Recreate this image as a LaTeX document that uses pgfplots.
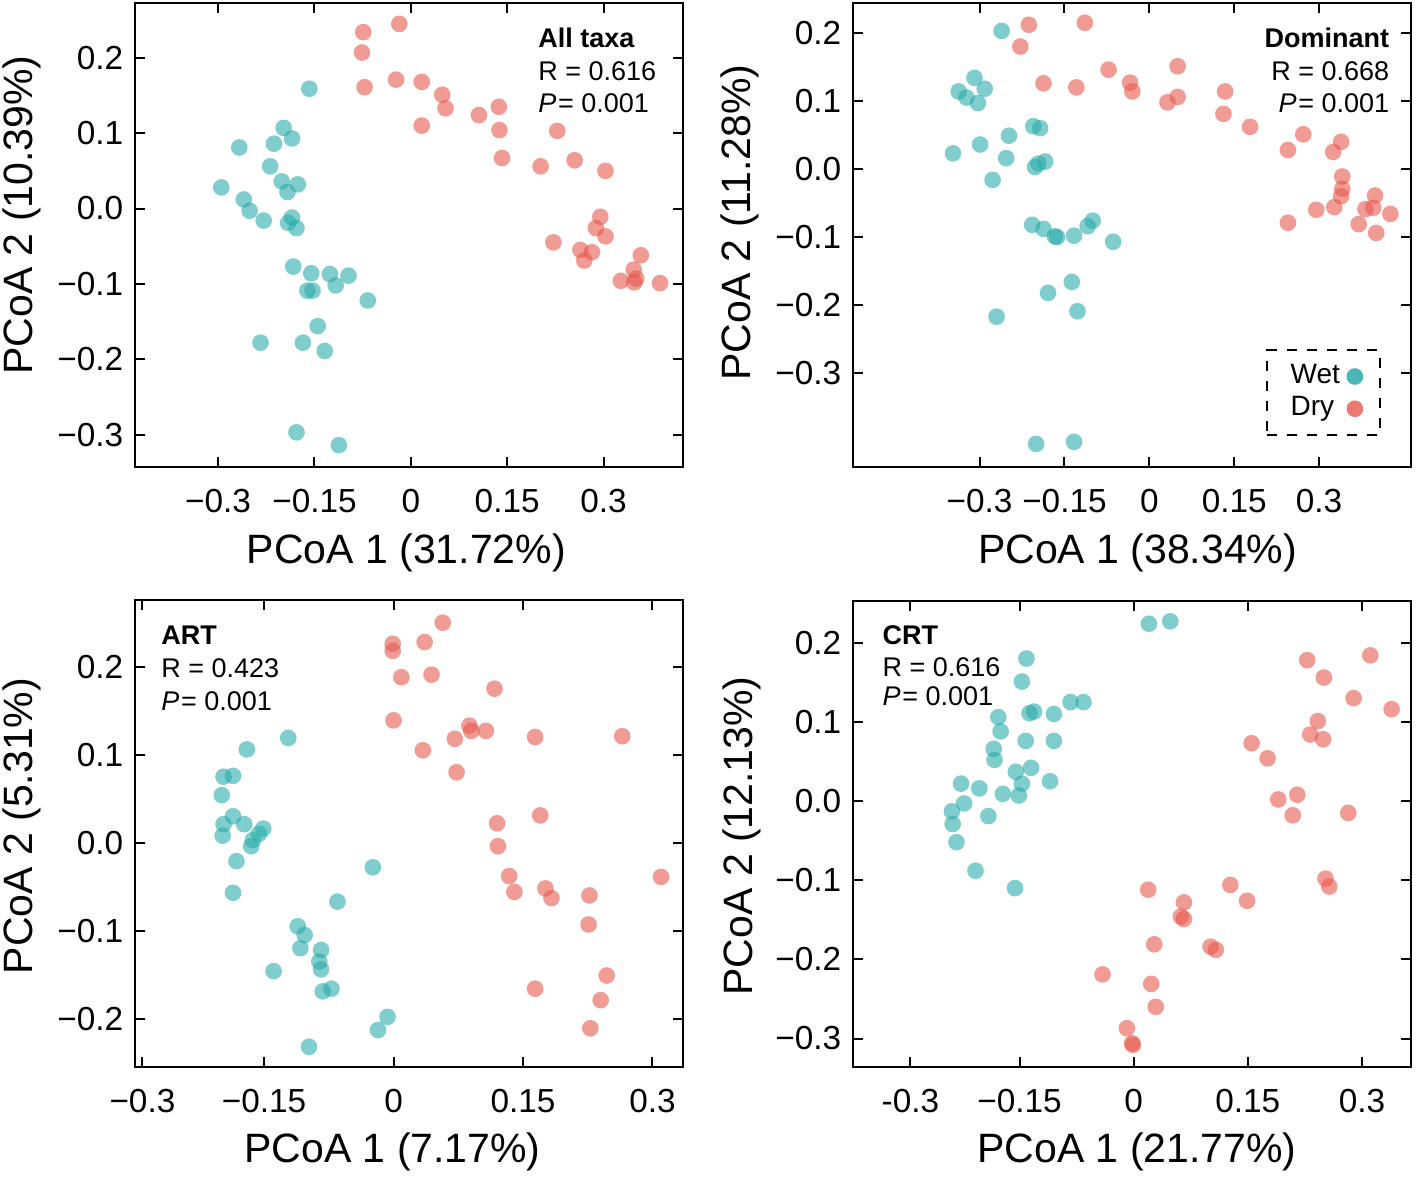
\documentclass[border=0pt]{standalone}
\usepackage{fontspec}
\setmainfont{Liberation Sans}
\usepackage{pgfplots}
\pgfplotsset{compat=1.18}

\definecolor{wetc}{HTML}{2AABAA}
\definecolor{dryc}{HTML}{E6584D}

\pgfplotsset{
  pcoa/.style={
    scale only axis,
    anchor=south west,
    axis line style={line width=0.6pt},
    tick style={line width=0.6pt, black},
    tick align=inside,
    major tick length=3pt,
    xticklabel style={font=\fontsize{10}{12}\selectfont, yshift=-3pt},
    yticklabel style={font=\fontsize{10}{12}\selectfont},
    label style={font=\fontsize{12.3}{14}\selectfont},
    xlabel style={anchor=center},
    ylabel style={anchor=center},
  },
  wet/.style={only marks, mark=*, mark size=2.5pt, color=wetc,
    mark options={fill=wetc, draw opacity=0, fill opacity=0.6}},
  dry/.style={only marks, mark=*, mark size=2.5pt, color=dryc,
    mark options={fill=dryc, draw opacity=0, fill opacity=0.6}},
}
\tikzset{ann/.style={inner sep=0pt, font=\fontsize{8.1}{10}\selectfont}}
\newcommand{\pval}{{\itshape P}\kern0.5pt= 0.001}

\begin{document}
\begin{tikzpicture}
\useasboundingbox (0,0) rectangle (425.4pt,-353.4pt);

% All taxa
\begin{axis}[pcoa,
  at={(40.5pt,-140.1pt)}, width=164.4pt, height=139.2pt,
  xmin=-0.4294, xmax=0.4237, ymin=-0.343, ymax=0.2727,
  xtick={-0.3,-0.15,0,0.15,0.3},
  xticklabels={−0.3,−0.15,0,0.15,0.3},
  ytick={-0.3,-0.2,-0.1,0,0.1,0.2},
  yticklabels={−0.3,−0.2,−0.1,0.0,0.1,0.2},
  xlabel={PCoA 1 (31.72\%)}, ylabel={PCoA 2 (10.39\%)},
  xlabel style={at={(axis description cs:0.495,-0.185)}},
  ylabel style={at={(axis description cs:-0.206,0.543)}},
]
\addplot[wet] coordinates {
(-0.158,0.159)(-0.198,0.107)(-0.185,0.093)(-0.267,0.081)(-0.213,0.086)
(-0.219,0.056)(-0.201,0.036)(-0.176,0.032)(-0.192,0.022)(-0.295,0.028)
(-0.260,0.012)(-0.251,-0.003)(-0.229,-0.016)(-0.185,-0.012)(-0.191,-0.019)
(-0.178,-0.026)(-0.183,-0.077)(-0.155,-0.086)(-0.126,-0.087)(-0.097,-0.089)
(-0.117,-0.102)(-0.161,-0.109)(-0.153,-0.109)(-0.067,-0.122)(-0.145,-0.156)
(-0.234,-0.178)(-0.168,-0.178)(-0.134,-0.189)(-0.178,-0.297)(-0.112,-0.314)
};
\addplot[dry] coordinates {
(-0.074,0.234)(-0.018,0.245)(-0.076,0.207)(-0.072,0.161)(-0.023,0.171)
(0.017,0.168)(0.049,0.151)(0.054,0.133)(0.017,0.110)(0.106,0.124)
(0.137,0.135)(0.138,0.104)(0.142,0.067)(0.228,0.103)(0.202,0.056)
(0.255,0.064)(0.303,0.050)(0.295,-0.011)(0.288,-0.026)(0.303,-0.037)
(0.222,-0.045)(0.264,-0.055)(0.282,-0.058)(0.270,-0.069)(0.358,-0.062)
(0.347,-0.081)(0.351,-0.093)(0.327,-0.096)(0.348,-0.098)(0.388,-0.099)
};
\node[ann, anchor=base west, font=\fontsize{8.1}{10}\selectfont\bfseries] at (axis description cs:0.735,0.905) {All taxa};
\node[ann, anchor=base west] at (axis description cs:0.735,0.834) {R = 0.616};
\node[ann, anchor=base west] at (axis description cs:0.735,0.765) {\pval};
\end{axis}

% Dominant
\begin{axis}[pcoa,
  at={(255.9pt,-140.1pt)}, width=167.4pt, height=139.2pt,
  xmin=-0.5237, xmax=0.4625, ymin=-0.438, ymax=0.244,
  xtick={-0.3,-0.15,0,0.15,0.3},
  xticklabels={−0.3,−0.15,0,0.15,0.3},
  ytick={-0.3,-0.2,-0.1,0,0.1,0.2},
  yticklabels={−0.3,−0.2,−0.1,0.0,0.1,0.2},
  xlabel={PCoA 1 (38.34\%)}, ylabel={PCoA 2 (11.28\%)},
  xlabel style={at={(axis description cs:0.51,-0.185)}},
  ylabel style={at={(axis description cs:-0.2025,0.527)}},
  legend plot pos=right,
  legend cell align=left,
  legend style={at={(axis description cs:0.946,0.067)}, anchor=south east,
    draw=black, dashed, line width=0.6pt,
    font=\fontsize{8.4}{10}\selectfont, row sep=0pt,
    nodes={inner ysep=1.2pt},
    inner xsep=5pt, inner ysep=3pt},
]
\addlegendimage{only marks, mark=*, mark size=2.5pt, color=wetc, mark options={solid, fill=wetc, draw opacity=0, fill opacity=0.85}}
\addlegendentry{Wet}
\addlegendimage{only marks, mark=*, mark size=2.5pt, color=dryc, mark options={solid, fill=dryc, draw opacity=0, fill opacity=0.8}}
\addlegendentry{Dry}
\addplot[wet, forget plot] coordinates {
(-0.261,0.203)(-0.309,0.134)(-0.337,0.114)(-0.291,0.118)(-0.323,0.105)
(-0.303,0.097)(-0.205,0.063)(-0.193,0.060)(-0.248,0.049)(-0.299,0.036)
(-0.347,0.023)(-0.253,0.016)(-0.196,0.008)(-0.202,0.003)(-0.184,0.011)
(-0.277,-0.016)(-0.207,-0.082)(-0.187,-0.088)(-0.167,-0.099)(-0.163,-0.100)
(-0.133,-0.098)(-0.109,-0.084)(-0.100,-0.076)(-0.064,-0.107)(-0.137,-0.166)
(-0.179,-0.182)(-0.127,-0.209)(-0.270,-0.217)(-0.200,-0.404)(-0.133,-0.401)
};
\addplot[dry, forget plot] coordinates {
(-0.213,0.212)(-0.114,0.215)(-0.228,0.180)(-0.072,0.146)(0.050,0.151)
(-0.187,0.126)(-0.129,0.120)(-0.034,0.127)(-0.030,0.114)(0.050,0.106)
(0.032,0.098)(0.134,0.114)(0.131,0.081)(0.178,0.062)(0.272,0.051)
(0.245,0.028)(0.339,0.040)(0.325,0.025)(0.341,-0.011)(0.341,-0.029)
(0.339,-0.040)(0.295,-0.060)(0.327,-0.056)(0.245,-0.079)(0.399,-0.039)
(0.382,-0.059)(0.396,-0.057)(0.426,-0.066)(0.370,-0.081)(0.401,-0.094)
};
\node[ann, anchor=base east, font=\fontsize{8.1}{10}\selectfont\bfseries] at (axis description cs:0.962,0.905) {Dominant};
\node[ann, anchor=base east] at (axis description cs:0.962,0.834) {R = 0.668};
\node[ann, anchor=base east] at (axis description cs:0.962,0.765) {\pval};
\end{axis}

% ART
\begin{axis}[pcoa,
  at={(40.5pt,-320.1pt)}, width=164.4pt, height=140.1pt,
  xmin=-0.2996, xmax=0.3354, ymin=-0.255, ymax=0.2758,
  xtick={-0.291,-0.15,0,0.15,0.3},
  xticklabels={−0.3,−0.15,0,0.15,0.3},
  ytick={-0.2,-0.1,0,0.1,0.2},
  yticklabels={−0.2,−0.1,0.0,0.1,0.2},
  xlabel={PCoA 1 (7.17\%)}, ylabel={PCoA 2 (5.31\%)},
  xlabel style={at={(axis description cs:0.47,-0.182)}},
  ylabel style={at={(axis description cs:-0.206,0.516)}},
]
\addplot[wet] coordinates {
(-0.122,0.119)(-0.170,0.106)(-0.197,0.075)(-0.186,0.076)(-0.199,0.054)
(-0.186,0.030)(-0.197,0.021)(-0.173,0.021)(-0.198,0.008)(-0.151,0.016)
(-0.156,0.010)(-0.163,0.003)(-0.165,-0.004)(-0.182,-0.021)(-0.186,-0.057)
(-0.024,-0.028)(-0.065,-0.067)(-0.111,-0.095)(-0.103,-0.105)(-0.108,-0.120)
(-0.084,-0.122)(-0.086,-0.135)(-0.084,-0.144)(-0.139,-0.146)(-0.072,-0.166)
(-0.082,-0.169)(-0.007,-0.198)(-0.018,-0.213)(-0.098,-0.232)
};
\addplot[dry] coordinates {
(0.057,0.250)(-0.001,0.226)(-0.001,0.218)(0.036,0.228)(0.009,0.188)
(0.044,0.191)(0.117,0.175)(0.000,0.139)(0.088,0.133)(0.090,0.127)
(0.071,0.118)(0.107,0.127)(0.164,0.120)(0.265,0.121)(0.034,0.105)
(0.073,0.080)(0.170,0.031)(0.120,0.022)(0.121,-0.004)(0.134,-0.038)
(0.140,-0.056)(0.176,-0.052)(0.183,-0.063)(0.227,-0.060)(0.310,-0.039)
(0.226,-0.093)(0.247,-0.151)(0.164,-0.166)(0.240,-0.179)(0.228,-0.211)
};
\node[ann, anchor=base west, font=\fontsize{8.1}{10}\selectfont\bfseries] at (axis description cs:0.047,0.904) {ART};
\node[ann, anchor=base west] at (axis description cs:0.047,0.833) {R = 0.423};
\node[ann, anchor=base west] at (axis description cs:0.047,0.764) {\pval};
\end{axis}

% CRT
\begin{axis}[pcoa,
  at={(255.9pt,-320.1pt)}, width=167.4pt, height=139.8pt,
  xmin=-0.369, xmax=0.3645, ymin=-0.336, ymax=0.2527,
  xtick={-0.2935,-0.15,0,0.15,0.3},
  xticklabels={-0.3,−0.15,0,0.15,0.3},
  ytick={-0.3,-0.2,-0.1,0,0.1,0.2},
  yticklabels={−0.3,−0.2,−0.1,0.0,0.1,0.2},
  xlabel={PCoA 1 (21.77\%)}, ylabel={PCoA 2 (12.13\%)},
  xlabel style={at={(axis description cs:0.509,-0.182)}},
  ylabel style={at={(axis description cs:-0.2,0.496)}},
]
\addplot[wet] coordinates {
(0.020,0.224)(0.048,0.227)(-0.141,0.180)(-0.147,0.151)(-0.137,0.111)
(-0.131,0.113)(-0.105,0.110)(-0.083,0.125)(-0.066,0.125)(-0.178,0.106)
(-0.175,0.088)(-0.142,0.076)(-0.105,0.076)(-0.184,0.066)(-0.183,0.052)
(-0.155,0.037)(-0.135,0.042)(-0.147,0.022)(-0.110,0.025)(-0.227,0.022)
(-0.203,0.016)(-0.172,0.009)(-0.151,0.007)(-0.223,-0.003)(-0.239,-0.013)
(-0.238,-0.029)(-0.191,-0.019)(-0.233,-0.052)(-0.208,-0.088)(-0.156,-0.110)
};
\addplot[dry] coordinates {
(0.228,0.178)(0.311,0.184)(0.250,0.156)(0.289,0.130)(0.339,0.116)
(0.242,0.101)(0.232,0.084)(0.249,0.078)(0.155,0.073)(0.176,0.054)
(0.215,0.008)(0.190,0.002)(0.209,-0.018)(0.282,-0.015)(0.252,-0.098)
(0.257,-0.108)(0.019,-0.112)(0.127,-0.106)(0.149,-0.126)(0.066,-0.128)
(0.062,-0.146)(0.066,-0.149)(0.027,-0.181)(0.101,-0.184)(0.108,-0.188)
(-0.041,-0.219)(0.023,-0.231)(0.029,-0.260)(-0.009,-0.287)(-0.002,-0.306)
(-0.001,-0.308)
};
\node[ann, anchor=base west, font=\fontsize{8.1}{10}\selectfont\bfseries] at (axis description cs:0.052,0.906) {CRT};
\node[ann, anchor=base west] at (axis description cs:0.052,0.837) {R = 0.616};
\node[ann, anchor=base west] at (axis description cs:0.052,0.775) {\pval};
\end{axis}
\end{tikzpicture}
\end{document}
